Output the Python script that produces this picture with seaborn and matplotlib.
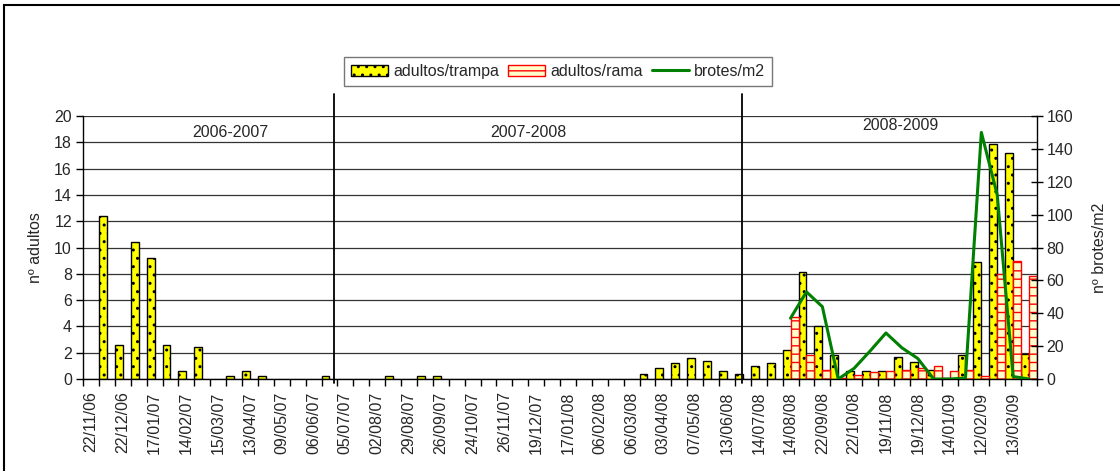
import numpy as np
import pandas as pd
import seaborn as sns
import matplotlib.pyplot as plt
from matplotlib.patches import Patch, Rectangle
from matplotlib.lines import Line2D
import matplotlib.transforms as mtransforms

# etiquetas del eje x (una de cada dos fechas de muestreo)
fechas = ["22/11/06", "22/12/06", "17/01/07", "14/02/07", "15/03/07", "13/04/07",
          "09/05/07", "06/06/07", "05/07/07", "02/08/07", "29/08/07", "26/09/07",
          "24/10/07", "26/11/07", "19/12/07", "17/01/08", "06/02/08", "06/03/08",
          "03/04/08", "07/05/08", "13/06/08", "14/07/08", "14/08/08", "22/09/08",
          "22/10/08", "19/11/08", "19/12/08", "14/01/09", "12/02/09", "13/03/09"]

adultos_trampa = [0, 12.4, 2.6, 10.4, 9.2, 2.6, 0.6, 2.4, 0, 0.2,
                  0.6, 0.2, 0, 0, 0, 0.2, 0, 0, 0, 0.2,
                  0, 0.2, 0.2, 0, 0, 0, 0, 0, 0, 0,
                  0, 0, 0, 0, 0, 0.4, 0.8, 1.2, 1.6, 1.4,
                  0.6, 0.4, 1.0, 1.2, 2.2, 8.1, 4.0, 1.8, 0.6, 0.6,
                  0.6, 1.7, 1.3, 0.7, 0.1, 1.8, 8.9, 17.9, 17.2, 1.9]

adultos_rama = [0] * 44 + [4.7, 1.8, 0.7, 0.1, 0.3, 0.5, 0.6, 0.7, 0.8, 1.0,
                           0.6, 0.7, 0.2, 8.0, 9.0, 7.8]

brotes_m2 = [np.nan] * 44 + [37, 53, 44, 0, 6.5, 17, 28, 19, 12.5, 0,
                             0, 0.5, 150, 112, 1.5, 0]

temporadas = ["2006-2007", "2007-2008", "2008-2009"]

n = len(adultos_trampa)
muestreo = list(range(n))

df = pd.DataFrame({
    "muestreo": muestreo * 2,
    "valor": adultos_trampa + adultos_rama,
    "serie": ["adultos/trampa"] * n + ["adultos/rama"] * n,
})
df_brotes = pd.DataFrame({"muestreo": muestreo, "brotes": brotes_m2}).dropna()

sns.set_style("white")
plt.rcParams['font.family'] = ['Liberation Sans', 'DejaVu Sans']
plt.rcParams['hatch.linewidth'] = 1.0
fs = 11.5

fig = plt.figure(figsize=(11.2, 4.71), dpi=100)
ax = fig.add_axes([83 / 1120, 1 - 379 / 471, 954 / 1120, 263 / 471])

sns.barplot(data=df, x="muestreo", y="valor", hue="serie", order=muestreo,
            hue_order=["adultos/trampa", "adultos/rama"],
            palette={"adultos/trampa": "#FFFF00", "adultos/rama": "#FFFFCC"},
            saturation=1, width=1.0, ax=ax, legend=False, zorder=2)

for p in ax.patches:
    fc = p.get_facecolor()
    if p.get_height() == 0:
        p.set_linewidth(0)
        continue
    if fc[2] < 0.5:
        p.set_edgecolor("black")
        p.set_hatch("..")
    else:
        p.set_edgecolor("red")
        p.set_hatch("--")
    p.set_linewidth(1.0)

ax.set_xlim(-0.5, n - 0.5)
ax.set_ylim(0, 20)
ax.set_yticks(range(0, 21, 2))
ax.yaxis.grid(True, color="#333333", linewidth=0.9)
ax.set_axisbelow(True)

# ticks del eje x en los limites de categoria, etiquetas cada dos
ax.set_xticks(np.arange(-0.5, n, 1.0))
ax.set_xticklabels([])
ax.set_xticks(np.arange(0, n, 2), minor=True)
ax.set_xticklabels(fechas, minor=True, rotation=90, fontsize=fs)
ax.tick_params(axis="x", which="major", direction="out", length=5, width=1, color="black", bottom=True)
ax.tick_params(axis="x", which="minor", length=0, pad=9)
ax.tick_params(axis="y", direction="out", length=5, width=1, color="black", left=True, labelsize=fs, pad=3)
ax.set_xlabel("")
ax.set_ylabel("nº adultos", fontsize=fs, labelpad=8)

for s in ["left", "bottom"]:
    ax.spines[s].set_color("black")
    ax.spines[s].set_linewidth(1)
ax.spines["top"].set_visible(False)
ax.spines["right"].set_visible(False)

ax2 = ax.twinx()
sns.lineplot(data=df_brotes, x="muestreo", y="brotes", color="#008000", linewidth=2.2, ax=ax2)
ax2.set_ylim(0, 160)
ax2.set_yticks(range(0, 161, 20))
ax2.tick_params(axis="y", direction="inout", length=8, width=1, color="black", right=True, labelsize=fs, pad=3)
ax2.set_ylabel("nº brotes/m2", fontsize=fs, labelpad=13)
for s in ["left", "top", "bottom"]:
    ax2.spines[s].set_visible(False)
ax2.spines["right"].set_color("black")
ax2.spines["right"].set_linewidth(1)
ax2.set_xlim(-0.5, n - 0.5)

# lineas separadoras de temporadas
trans = mtransforms.blended_transform_factory(ax.transData, ax.transAxes)
for xs in [15.3, 40.95]:
    ax.add_line(Line2D([xs, xs], [-0.015, 1.084], transform=trans, color="black",
                       linewidth=1.3, clip_on=False, zorder=5))

ax.text(8.75, 0.939, temporadas[0], transform=trans, ha="center", va="center", fontsize=fs)
ax.text(27.5, 0.939, temporadas[1], transform=trans, ha="center", va="center", fontsize=fs)
ax.text(50.9, 0.962, temporadas[2], transform=trans, ha="center", va="center", fontsize=fs)

handles = [Patch(facecolor="#FFFF00", edgecolor="black", hatch="..", label="adultos/trampa"),
           Patch(facecolor="#FFFFCC", edgecolor="red", hatch="--", label="adultos/rama"),
           Line2D([0], [0], color="#008000", linewidth=2.2, label="brotes/m2")]
leg = fig.legend(handles=handles, loc="center", bbox_to_anchor=(558 / 1120, 1 - 71.5 / 471),
                 ncol=3, fontsize=fs, frameon=True, fancybox=False, edgecolor="#555555",
                 handlelength=2.3, handleheight=0.7, handletextpad=0.3, columnspacing=0.6,
                 borderpad=0.45)
leg.get_frame().set_linewidth(1)

# borde del area del grafico
fig.patches.append(Rectangle((4 / 1120, -0.1), 1.2, 1 - 5 / 471 + 0.1, transform=fig.transFigure,
                             fill=False, edgecolor="black", linewidth=1.5))

fig.savefig("out.png", dpi=100)
